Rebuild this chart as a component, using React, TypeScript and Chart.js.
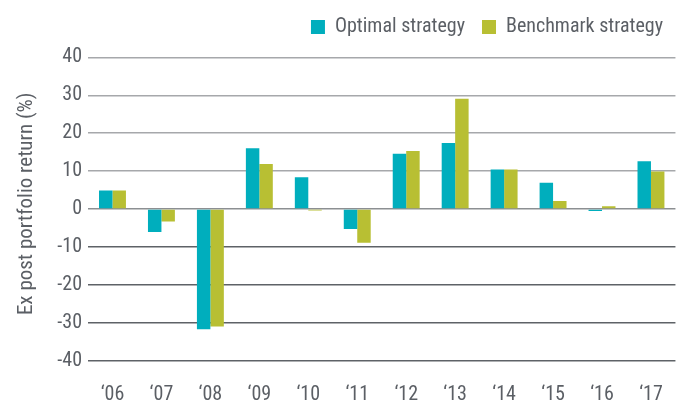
import React, { useEffect, useRef } from "react";
import { Chart, registerables } from "chart.js";

Chart.register(...registerables);

const years = ["‘06", "‘07", "‘08", "‘09", "‘10", "‘11", "‘12", "‘13", "‘14", "‘15", "‘16", "‘17"];
const optimal = [4.9, -6.1, -31.7, 16.0, 8.4, -5.3, 14.6, 17.4, 10.4, 6.9, -0.5, 12.6];
const benchmark = [4.9, -3.3, -31.0, 11.9, -0.4, -8.9, 15.3, 29.1, 10.4, 2.1, 0.7, 9.9];
const seriesNames = ["Optimal strategy", "Benchmark strategy"];
const yTitle = "Ex post portfolio return (%)";

const FONT = "'Liberation Sans Narrow', 'Roboto Condensed', Roboto, sans-serif";
const TEXT = "#5b5f65";

export default function App() {
  const ref = useRef<HTMLCanvasElement>(null);
  useEffect(() => {
    if (!ref.current) return;
    const chart = new Chart(ref.current, {
      type: "bar",
      data: {
        labels: years,
        datasets: [
          { label: seriesNames[0], data: optimal, backgroundColor: "#00aebd", borderWidth: 0 },
          { label: seriesNames[1], data: benchmark, backgroundColor: "#b8bf33", borderWidth: 0 },
        ],
      },
      options: {
        animation: false,
        responsive: false,
        maintainAspectRatio: false,
        layout: { padding: { top: 0, right: 5, bottom: 0, left: 0 } },
        datasets: { bar: { categoryPercentage: 0.55, barPercentage: 1.0 } },
        plugins: {
          tooltip: { enabled: false },
          legend: {
            position: "top",
            align: "end",
            labels: {
              boxWidth: 14,
              boxHeight: 14,
              padding: 17,
              color: TEXT,
              font: { family: FONT, size: 20 },
            },
          },
        },
        scales: {
          x: {
            grid: { display: false, drawTicks: false },
            border: { display: false },
            ticks: { color: TEXT, font: { family: FONT, size: 20 }, padding: 22, maxRotation: 0 },
            afterFit: (s: any) => { s.height = 46.4; },
          },
          y: {
            min: -40,
            max: 42.74,
            ticks: { stepSize: 10, includeBounds: false, color: TEXT, font: { family: FONT, size: 20 }, padding: 6 },
            grid: {
              drawTicks: false,
              lineWidth: 1.5,
              color: (c: any) => {
                const v = c.tick ? c.tick.value : 0;
                if (v > 0) return "#a6a8ab";
                if (v === 0) return "#8c8f92";
                return "#5e6267";
              },
            },
            border: { display: false },
            title: {
              display: true,
              text: yTitle,
              color: TEXT,
              font: { family: FONT, size: 21 },
              padding: { top: 14, bottom: 0 },
            },
            afterFit: (s: any) => { s.width = 88; },
          },
        },
      },
    });
    return () => chart.destroy();
  }, []);
  return (
    <div style={{ position: "absolute", left: 0, top: 0, width: 685, height: 407, background: "#fff" }}>
      <canvas ref={ref} width={685} height={407} style={{ display: "block", width: 685, height: 407 }} />
    </div>
  );
}
